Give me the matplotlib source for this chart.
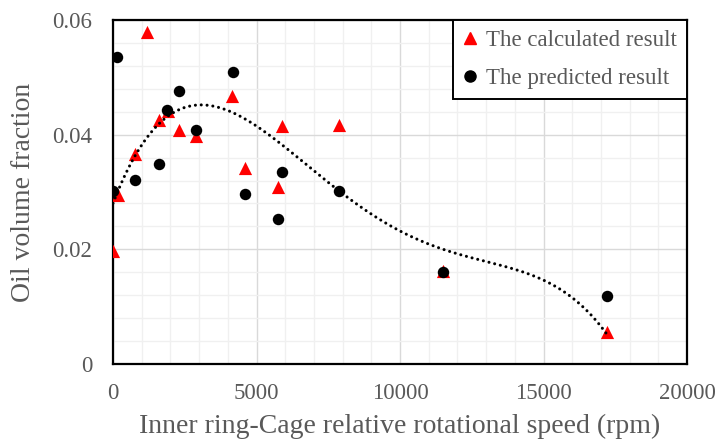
import numpy as np
import matplotlib
matplotlib.use("Agg")
import matplotlib.pyplot as plt
from matplotlib.ticker import MultipleLocator
from matplotlib.lines import Line2D

# Data
calc_x = [0, 174, 1185, 767, 1603, 1916, 2300, 2890, 4146, 4600, 5750, 5890, 7875, 11498, 17213]
calc_y = [0.0197, 0.0295, 0.0579, 0.0366, 0.0426, 0.0441, 0.0408, 0.0398, 0.0467, 0.0342,
          0.0309, 0.0415, 0.0417, 0.0162, 0.0055]
pred_x = [139, 0, 767, 1603, 1870, 2300, 2890, 4180, 4600, 5890, 5750, 7875, 11498, 17213]
pred_y = [0.0536, 0.0302, 0.0321, 0.0349, 0.0443, 0.0476, 0.0408, 0.0509, 0.0296, 0.0335,
          0.0253, 0.0302, 0.0160, 0.0119]

x_ticks = [0, 5000, 10000, 15000, 20000]
y_ticks = [0, 0.02, 0.04, 0.06]
y_tick_labels = ['0', '0.02', '0.04', '0.06']
legend_labels = ['The calculated result', 'The predicted result']
x_label = 'Inner ring-Cage relative rotational speed (rpm)'
y_label = 'Oil volume fraction'

GRAY = '#595959'
plt.rcParams['font.family'] = ['Liberation Serif', 'DejaVu Serif']

fig = plt.figure(figsize=(7.2, 4.48), dpi=100)
ax = fig.add_axes([113 / 720, 84 / 448, 574 / 720, 344 / 448])
ax.set_xlim(0, 20000)
ax.set_ylim(0, 0.06)

ax.scatter(calc_x, calc_y, marker='^', color='#ff0000', s=90, linewidths=0, zorder=3)
ax.scatter(pred_x, pred_y, marker='o', color='black', s=68, linewidths=0, zorder=3.5)

# Polynomial (order 4) trendline of the calculated result, as in the source chart
coef = np.polyfit(np.array(calc_x) / 1000.0, calc_y, 4)
xs = np.linspace(min(calc_x), max(calc_x), 400)
ax.plot(xs, np.polyval(coef, xs / 1000.0), color='black', lw=2.2,
        linestyle=(0, (0.01, 1.9)), dash_capstyle='round', zorder=4)

ax.set_xticks(x_ticks)
ax.set_xticklabels([str(v) for v in x_ticks])
ax.set_yticks(y_ticks)
ax.set_yticklabels(y_tick_labels)
ax.xaxis.set_minor_locator(MultipleLocator(1000))
ax.yaxis.set_minor_locator(MultipleLocator(0.004))
ax.grid(which='major', color='#d9d9d9', lw=1.0, zorder=0)
ax.grid(which='minor', color='#f0f0f0', lw=1.0, zorder=0)
ax.set_axisbelow(True)
ax.tick_params(which='both', length=0)
ax.tick_params(axis='x', labelsize=16.5, labelcolor=GRAY, pad=14)
ax.tick_params(axis='y', labelsize=16.5, labelcolor=GRAY, pad=15)
for sp in ax.spines.values():
    sp.set_color('black')
    sp.set_linewidth(1.6)

ax.set_xlabel(x_label, fontsize=20, color=GRAY)
ax.set_ylabel(y_label, fontsize=20, color=GRAY)
ax.xaxis.set_label_coords(0.5, (364 - 414) / 344)
ax.yaxis.set_label_coords((36 - 113) / 574, 0.5)

handles = [Line2D([], [], marker='^', color='#ff0000', ls='none', markersize=9),
           Line2D([], [], marker='o', color='black', ls='none', markersize=8)]
leg = ax.legend(handles, legend_labels, loc='upper right', fontsize=16.5,
                frameon=True, fancybox=False, borderaxespad=0, borderpad=0.42,
                handlelength=0.7, handletextpad=0.35, labelspacing=0.75,
                labelcolor=GRAY)
leg.get_frame().set_edgecolor('black')
leg.get_frame().set_linewidth(1.4)
leg.get_frame().set_alpha(1)
leg.set_zorder(5)

fig.savefig('out.png', dpi=100)
